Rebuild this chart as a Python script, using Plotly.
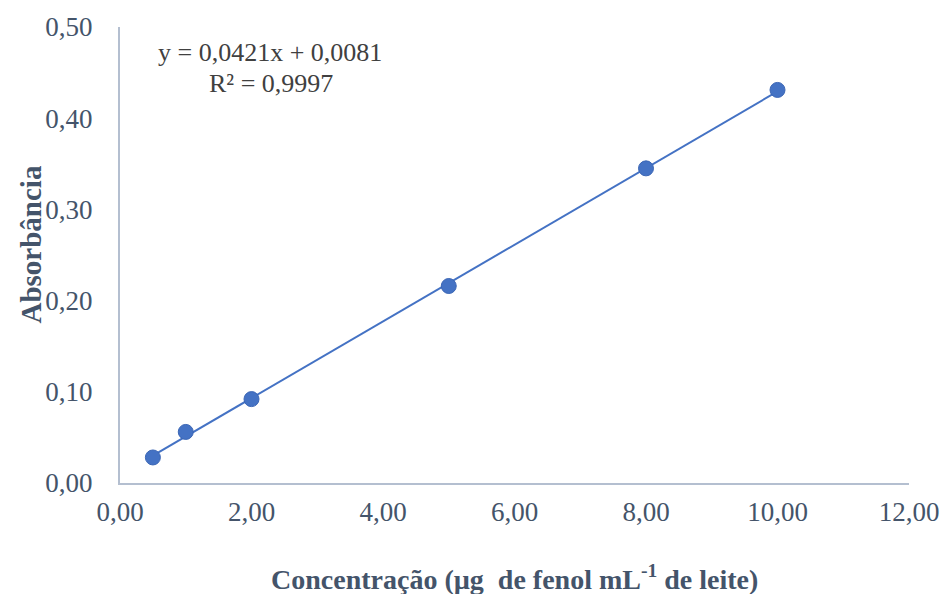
import numpy as np
import plotly.graph_objects as go

# Data
concentracao = [0.5, 1.0, 2.0, 5.0, 8.0, 10.0]
absorbancia = [0.028, 0.056, 0.092, 0.216, 0.345, 0.431]
x_ticks = [0, 2, 4, 6, 8, 10, 12]
y_ticks = [0.0, 0.1, 0.2, 0.3, 0.4, 0.5]
equacao = "y = 0,0421x + 0,0081"
r2_texto = "R² = 0,9997"

slope, intercept = np.polyfit(concentracao, absorbancia, 1)
x_fit = [min(concentracao), max(concentracao)]
y_fit = [slope * v + intercept for v in x_fit]

BLUE = "#4472C4"
TXT = "#44546A"
FONT = "Liberation Serif"

W, H = 941, 594
L, R, T, B = 120, 32, 27, 111
pw, ph = W - L - R, H - T - B


def px_x(x):
    return (x - L) / pw


def px_y(y):
    return (H - B - y) / ph


fig = go.Figure()
fig.add_trace(go.Scatter(x=x_fit, y=y_fit, mode="lines",
                         line=dict(color=BLUE, width=2), hoverinfo="skip"))
fig.add_trace(go.Scatter(x=concentracao, y=absorbancia, mode="markers",
                         marker=dict(color=BLUE, size=15,
                                     line=dict(color="#3B66B5", width=1))))

fig.update_layout(
    width=W, height=H, autosize=False,
    margin=dict(l=L, r=R, t=T, b=B),
    paper_bgcolor="white", plot_bgcolor="white",
    showlegend=False,
    separators=",.",
    font=dict(family=FONT, color=TXT, size=26),
    xaxis=dict(range=[0, 12], tickvals=x_ticks, tickformat=".2f",
               showgrid=False, zeroline=False, showline=True, automargin=False,
               linecolor="#B4BFD0", linewidth=2, ticks="",
               ticklabelstandoff=4,
               tickfont=dict(family=FONT, size=27, color=TXT)),
    yaxis=dict(range=[0, 0.5], tickvals=y_ticks, tickformat=".2f",
               showgrid=False, zeroline=False, showline=True, automargin=False,
               linecolor="#B4BFD0", linewidth=2, ticks="",
               ticklabelstandoff=20,
               tickfont=dict(family=FONT, size=27, color=TXT)),
    annotations=[
        dict(text=equacao, x=px_x(270), y=px_y(52), xref="paper", yref="paper",
             xanchor="center", yanchor="middle",
             showarrow=False, font=dict(family=FONT, size=26, color="#404040")),
        dict(text=r2_texto, x=px_x(271), y=px_y(83), xref="paper", yref="paper",
             xanchor="center", yanchor="middle",
             showarrow=False, font=dict(family=FONT, size=26, color="#404040")),
        dict(text="<b>Concentração (µg  de fenol mL<sup>-1</sup> de leite)</b>",
             x=px_x(514.5), y=px_y(577), xref="paper", yref="paper",
             xanchor="center", yanchor="middle",
             showarrow=False, font=dict(family=FONT, size=28, color=TXT)),
        dict(text="<b>Absorbância</b>", textangle=-90,
             x=px_x(30), y=px_y(244.5), xref="paper", yref="paper",
             xanchor="center", yanchor="middle",
             showarrow=False, font=dict(family=FONT, size=29, color=TXT)),
    ],
)

fig.write_html("out.html",
               config={"responsive": False, "displayModeBar": False},
               post_script="document.body.style.margin='0';document.body.style.overflow='hidden';")
